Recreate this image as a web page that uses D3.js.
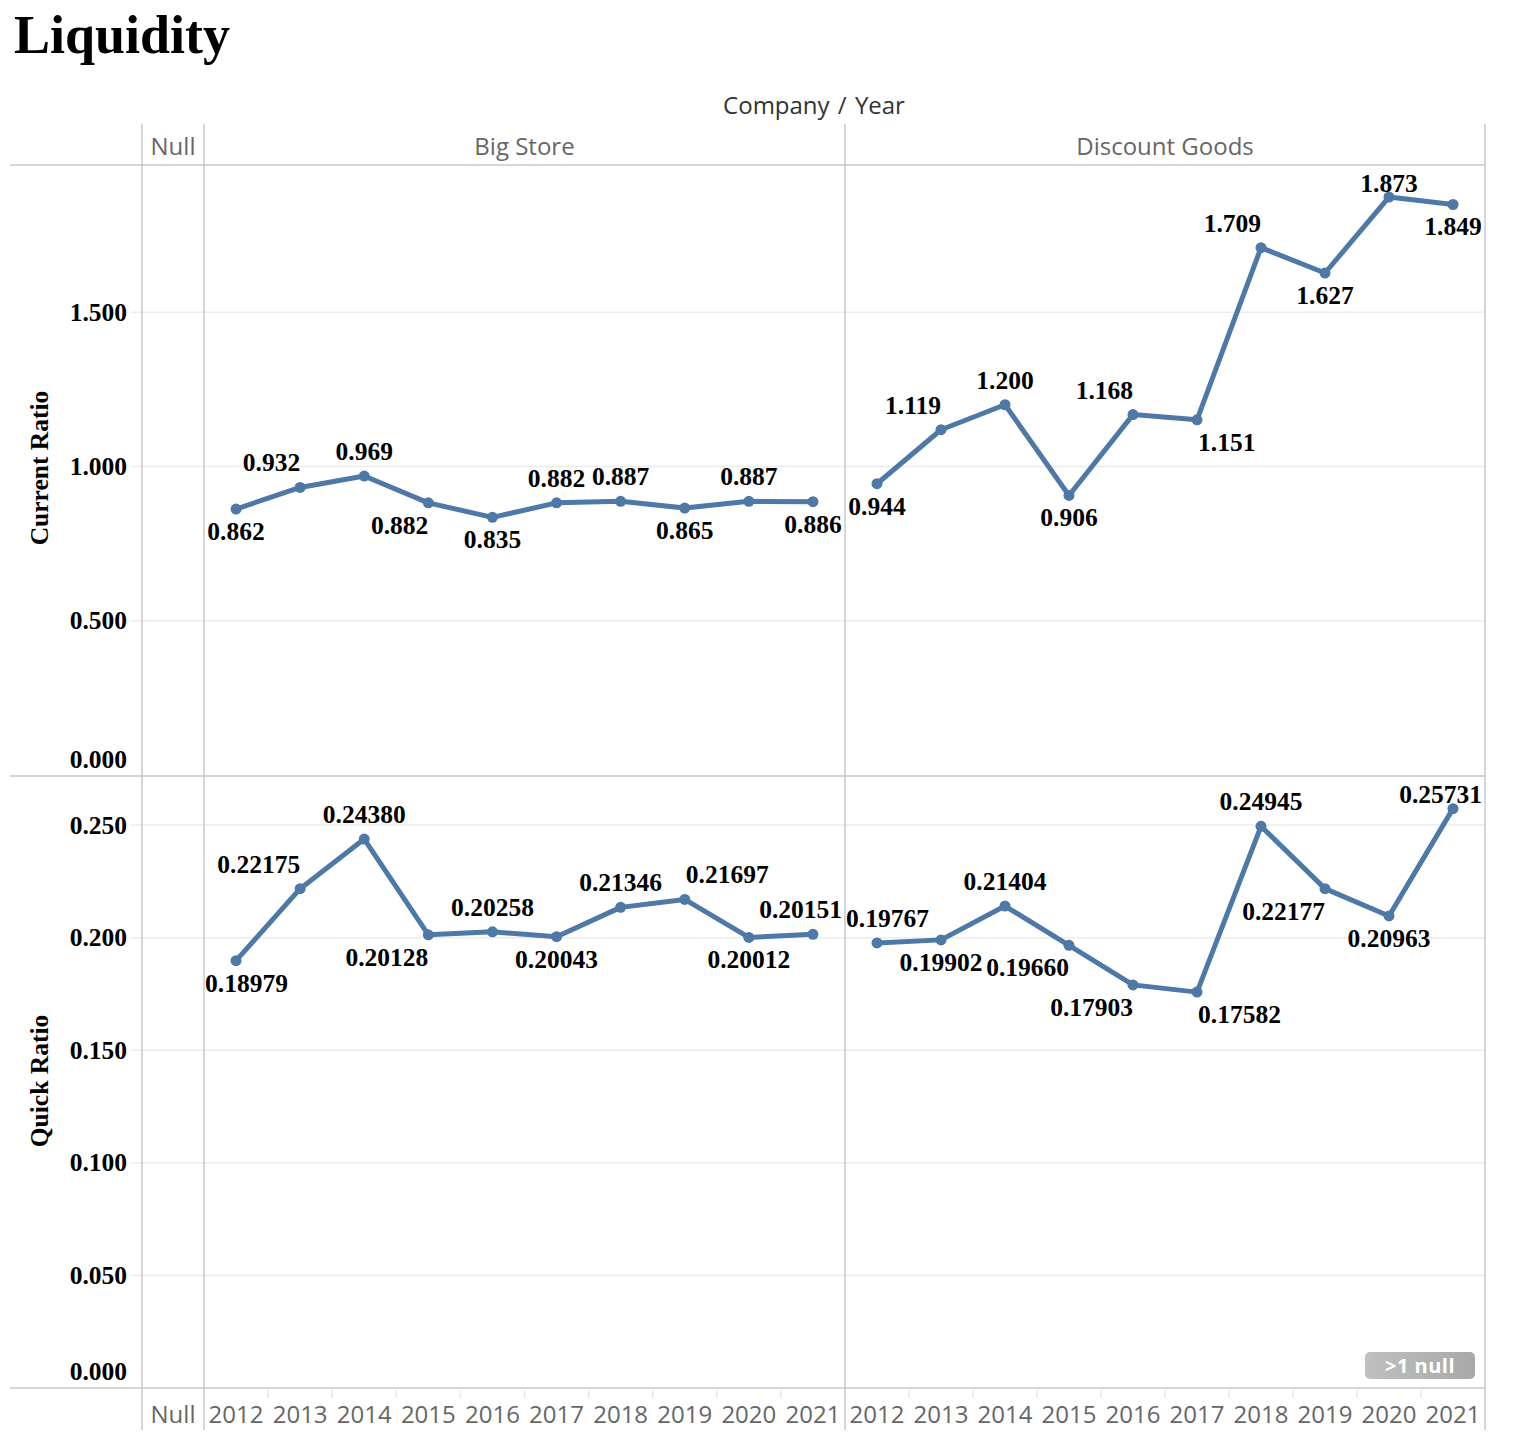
<!DOCTYPE html>
<html><head><meta charset="utf-8">
<script src="https://cdn.jsdelivr.net/npm/d3@7"></script>
<style>
html,body{margin:0;padding:0;background:#fff;}
svg{display:block;}
</style></head>
<body><svg id="chart" width="1523" height="1443"></svg>
<script>
const years = ['2012','2013','2014','2015','2016','2017','2018','2019','2020','2021'];
const companies = ['Big Store','Discount Goods'];
const bigStoreCurrent = [0.862,0.932,0.969,0.882,0.835,0.882,0.887,0.865,0.887,0.886];
const discountCurrent = [0.944,1.119,1.200,0.906,1.168,1.151,1.709,1.627,1.873,1.849];
const bigStoreQuick = [0.18979,0.22175,0.24380,0.20128,0.20258,0.20043,0.21346,0.21697,0.20012,0.20151];
const discountQuick = [0.19767,0.19902,0.21404,0.19660,0.17903,0.17582,0.24945,0.22177,0.20963,0.25731];
const currentTicks = [0,0.5,1.0,1.5];
const quickTicks = [0,0.05,0.10,0.15,0.20,0.25];
// label placement: a/b = above/below, c/l/r = centred / to the left / to the right of the mark
const bigStoreCurrentPlace = ['bc','al','ac','bl','bc','ac','ac','bc','ac','bc'];
const discountCurrentPlace = ['bc','al','ac','bc','al','br','al','bc','ac','bc'];
const bigStoreQuickPlace = ['bc','al','ac','bl','ac','bc','ac','ar','bc','ac'];
const discountQuickPlace = ['ac','bc','ac','bl','bl','br','ac','bl','bc','ac'];

const svg = d3.select('#chart');
const serif = '"Liberation Serif","Times New Roman",serif';
const sans = '"Open Sans","Noto Sans",sans-serif';
const borderC = '#c8c8c8';

const paneX = [204, 845, 1485];
const nullX = [142, 204];
const headerTop = 124, headerBottom = 165, rowSplit = 776, plotBottom = 1388, axisBottom = 1430;

const y1 = d3.scaleLinear().domain([0, 1.977]).range([775, headerBottom]);
const y2 = d3.scaleLinear().domain([0, 0.2718]).range([plotBottom, rowSplit]);

const xScales = companies.map((c,i) => d3.scaleBand().domain(years).range([paneX[i], paneX[i+1]]));

// Title
svg.append('text').attr('x',14).attr('y',53).attr('font-family',serif).attr('font-weight','bold')
  .attr('font-size',54).attr('fill','#000').text('Liquidity');
svg.append('text').attr('x',814).attr('y',114).attr('text-anchor','middle').attr('font-family',sans)
  .attr('font-size',24).attr('fill','#333').attr('word-spacing',2).text('Company / Year');

// gridlines
function grid(scale, ticks, bottom) {
  ticks.forEach(t => {
    const yy = scale(t);
    if (Math.abs(yy - bottom) < 3) return;
    svg.append('line').attr('x1',131).attr('x2',1485).attr('y1',yy).attr('y2',yy)
      .attr('stroke','#ececec').attr('stroke-width',1.5);
  });
}
grid(y1, currentTicks, 776);
grid(y2, quickTicks, plotBottom);

// borders
[[10,1485,headerBottom],[10,1485,rowSplit],[10,1485,plotBottom]].forEach(([a,b,yy]) =>
  svg.append('line').attr('x1',a).attr('x2',b).attr('y1',yy).attr('y2',yy).attr('stroke',borderC).attr('stroke-width',1.5));
[nullX[0], nullX[1], paneX[1], paneX[2]].forEach(xx =>
  svg.append('line').attr('x1',xx).attr('x2',xx).attr('y1',headerTop).attr('y2',axisBottom).attr('stroke',borderC).attr('stroke-width',1.5));

// header labels
svg.append('text').attr('x',(nullX[0]+nullX[1])/2).attr('y',155).attr('text-anchor','middle')
  .attr('font-family',sans).attr('font-size',24).attr('fill','#666').text('Null');
companies.forEach((c,i) => svg.append('text').attr('x',(paneX[i]+paneX[i+1])/2).attr('y',155)
  .attr('text-anchor','middle').attr('font-family',sans).attr('font-size',24).attr('fill','#666').text(c));

// bottom axis
svg.append('text').attr('x',(nullX[0]+nullX[1])/2).attr('y',1423).attr('text-anchor','middle')
  .attr('font-family',sans).attr('font-size',24).attr('fill','#666').text('Null');
xScales.forEach(xs => {
  years.forEach((yr,j) => {
    svg.append('text').attr('x',xs(yr)+xs.bandwidth()/2).attr('y',1423).attr('text-anchor','middle')
      .attr('font-family',sans).attr('font-size',24).attr('fill','#666').text(yr);
    if (j>0) svg.append('line').attr('x1',xs(yr)).attr('x2',xs(yr)).attr('y1',plotBottom+2).attr('y2',plotBottom+10)
      .attr('stroke','#e6e6e6').attr('stroke-width',1.5);
  });
});

// y axes
function yAxis(scale, ticks, fmt, paneBottom, title, titleY) {
  ticks.forEach(t => {
    let base = scale(t) + 8.5;
    base = Math.min(base, paneBottom - 8);
    svg.append('text').attr('x',127).attr('y',base).attr('text-anchor','end')
      .attr('font-family',serif).attr('font-weight','bold').attr('font-size',25.5).attr('fill','#000')
      .text(fmt(t));
  });
  svg.append('text').attr('transform',`translate(48,${titleY}) rotate(-90)`).attr('text-anchor','middle')
    .attr('font-family',serif).attr('font-weight','bold').attr('font-size',25.5).attr('fill','#000').text(title);
}
yAxis(y1, currentTicks, d3.format('.3f'), rowSplit, 'Current Ratio', 468);
yAxis(y2, quickTicks, d3.format('.3f'), plotBottom, 'Quick Ratio', 1081);

// series
const lineColor = '#4e79a7';
function series(xs, scale, values, place, fmt, pane, paneTop) {
  const pts = values.map((v,j) => [xs(years[j]) + xs.bandwidth()/2, scale(v)]);
  svg.append('path').attr('d', d3.line()(pts)).attr('fill','none').attr('stroke',lineColor)
    .attr('stroke-width',5).attr('stroke-linejoin','round').attr('stroke-linecap','round');
  svg.selectAll(null).data(pts).enter().append('circle').attr('cx',d=>d[0]).attr('cy',d=>d[1])
    .attr('r',5.5).attr('fill',lineColor);
  values.forEach((v,j) => {
    const [px,py] = pts[j];
    const t = svg.append('text').attr('font-family',serif).attr('font-weight','bold').attr('font-size',25.5)
      .attr('fill','#000').attr('text-anchor','middle').text(fmt(v));
    const w = t.node().getComputedTextLength();
    const p = place[j];
    let cx = px;
    if (p[1] === 'l') cx = px - w/2;
    if (p[1] === 'r') cx = px + 1 + w/2;
    if (cx - w/2 < pane[0] + 1) cx = pane[0] + 1 + w/2;
    if (cx + w/2 > pane[1] - 3) cx = pane[1] - 3 - w/2;
    let base = p[0] === 'a' ? py - 16 : py + 31;
    base = Math.max(base, paneTop + 27);
    t.attr('x', cx).attr('y', base);
  });
}
const f3 = d3.format('.3f'), f5 = d3.format('.5f');
series(xScales[0], y1, bigStoreCurrent, bigStoreCurrentPlace, f3, [paneX[0],paneX[1]], headerBottom);
series(xScales[1], y1, discountCurrent, discountCurrentPlace, f3, [paneX[1],paneX[2]], headerBottom);
series(xScales[0], y2, bigStoreQuick, bigStoreQuickPlace, f5, [paneX[0],paneX[1]], rowSplit);
series(xScales[1], y2, discountQuick, discountQuickPlace, f5, [paneX[1],paneX[2]], rowSplit);

// null badge
const grad = svg.append('defs').append('linearGradient').attr('id','bg').attr('x1','0').attr('x2','1');
grad.append('stop').attr('offset','0').attr('stop-color','#c0c0c0');
grad.append('stop').attr('offset','1').attr('stop-color','#a8a8a8');
svg.append('rect').attr('x',1365).attr('y',1352).attr('width',110).attr('height',27).attr('rx',5)
  .attr('fill','url(#bg)');
svg.append('text').attr('x',1420).attr('y',1373).attr('text-anchor','middle').attr('font-family',sans)
  .attr('font-weight','bold').attr('font-size',20).attr('fill','#fff').attr('letter-spacing',0.5).text('>1 null');
</script></body></html>
